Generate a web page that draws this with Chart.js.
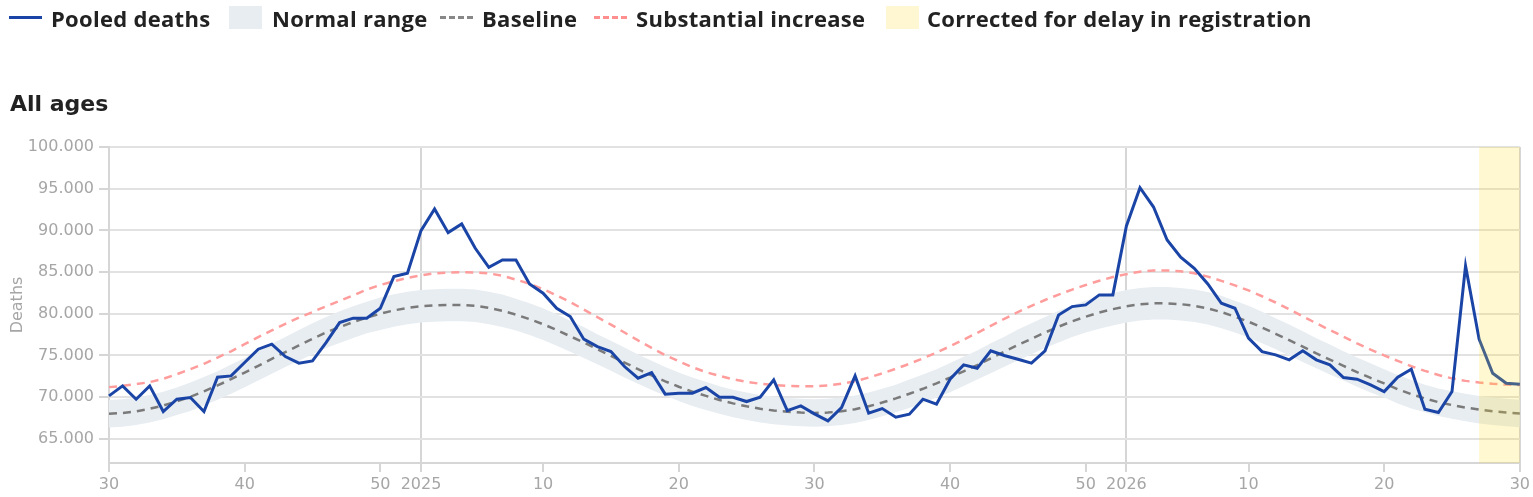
<!DOCTYPE html>
<html>
<head>
<meta charset="utf-8">
<script src="https://cdn.jsdelivr.net/npm/chart.js@4.4.1/dist/chart.umd.min.js"></script>
<style>
  body { margin: 0; width: 1533px; height: 497px; overflow: hidden; background: #fff; }
  #wrap { position: absolute; left: 0; top: 0; width: 1533px; height: 497px; }
  .legend { position: absolute; top: 5px; height: 26px; line-height: 26px; font-family: "Open Sans", sans-serif; font-weight: 700; font-size: 22px; letter-spacing: 0.3px; color: #222; white-space: nowrap; }
  .sw { position: absolute; }
  #title { position: absolute; left: 10px; top: 93px; font-family: "DejaVu Sans", sans-serif; font-weight: bold; font-size: 22px; line-height: 22px; color: #222; }
</style>
</head>
<body>
<div id="wrap"><canvas id="deathsChart"></canvas></div>

<div class="sw" style="left:9px;top:16px;width:33px;height:3px;background:#1a45a6"></div>
<div class="legend" style="left:51px">Pooled deaths</div>
<div class="sw" style="left:229px;top:6px;width:33px;height:23px;background:#e8edf2"></div>
<div class="legend" style="left:272px">Normal range</div>
<div class="sw" style="left:440px;top:16px;width:33px;height:3px;background:repeating-linear-gradient(to right,#888 0 6px,transparent 6px 9px)"></div>
<div class="legend" style="left:482px">Baseline</div>
<div class="sw" style="left:594px;top:16px;width:33px;height:3px;background:repeating-linear-gradient(to right,#ff8f8f 0 6px,transparent 6px 9px)"></div>
<div class="legend" style="left:636px">Substantial increase</div>
<div class="sw" style="left:886px;top:6px;width:33px;height:23px;background:#fff7d1"></div>
<div class="legend" style="left:927px">Corrected for delay in registration</div>

<div id="title">All ages</div>

<script>
// weeks from 2024 week 30 to 2026 week 30 (2024 and 2025 have 52 ISO weeks)
const weekLabels = [];
for (let y = 2024, w = 30; weekLabels.length < 105; w++) {
    if (w > 52) { y++; w = 1; }
    weekLabels.push(y + '-W' + w);
}

// first week that is still being corrected for registration delay
const correctedFrom = '2026-W27';

const yTicks = [65000, 70000, 75000, 80000, 85000, 90000, 95000, 100000];

const pooledDeaths = [
    70150, 71350, 69750, 71350, 68270, 69750, 69950, 68270, 72390, 72550,
    74150, 75750, 76350, 74860, 74070, 74350, 76550, 78940, 79470, 79470,
    80660, 84460, 84860, 89970, 92570, 89730, 90770, 87850, 85570, 86450,
    86450, 83580, 82460, 80660, 79660, 76950, 76060, 75460, 73670, 72270,
    72940, 70360, 70480, 70480, 71150, 69990, 69990, 69470, 69990, 72070,
    68390, 68950, 67990, 67150, 68750, 72550, 68070, 68630, 67600, 67960,
    69750, 69150, 72150, 73870, 73470, 75550, 74990, 74550, 74070, 75550,
    79860, 80860, 81060, 82260, 82260, 90530, 95120, 92800, 88850, 86780,
    85460, 83580, 81260, 80660, 77070, 75460, 75070, 74470, 75550, 74470,
    73870, 72350, 72150, 71470, 70670, 72390, 73350, 68550, 68150, 70670,
    85740, 76950, 72870, 71670, 71550
];

const baseline = [
    68000, 68100, 68300, 68600, 69000, 69500, 70050, 70700, 71400, 72150,
    72950, 73750, 74600, 75400, 76200, 77000, 77750, 78400, 79000, 79550,
    80000, 80400, 80700, 80900, 81000, 81050, 81050, 80950, 80700, 80350,
    79900, 79350, 78750, 78050, 77300, 76550, 75750, 74950, 74150, 73350,
    72600, 71900, 71250, 70650, 70150, 69650, 69250, 68900, 68600, 68400,
    68250, 68150, 68100, 68150, 68300, 68550, 68900, 69350, 69850, 70400,
    71000, 71650, 72350, 73100, 73850, 74650, 75450, 76250, 77000, 77750,
    78450, 79100, 79650, 80150, 80550, 80900, 81150, 81250, 81250, 81150,
    80950, 80650, 80200, 79650, 79050, 78350, 77600, 76850, 76050, 75250,
    74500, 73750, 73000, 72300, 71650, 70950, 70350, 69850, 69400, 69050,
    68750, 68500, 68300, 68150, 68050
];

const substantialIncrease = [
    71200, 71350, 71550, 71800, 72200, 72750, 73350, 74000, 74750, 75500,
    76350, 77200, 78000, 78800, 79550, 80200, 80900, 81550, 82200, 82900,
    83450, 83900, 84300, 84600, 84850, 84950, 85000, 84950, 84850, 84550,
    84100, 83600, 82950, 82200, 81400, 80500, 79600, 78700, 77750, 76800,
    75900, 75050, 74300, 73600, 73000, 72550, 72150, 71850, 71600, 71450,
    71350, 71300, 71300, 71400, 71600, 71900, 72350, 72850, 73400, 74000,
    74650, 75350, 76100, 76900, 77700, 78550, 79400, 80200, 80950, 81650,
    82300, 82900, 83450, 83950, 84400, 84750, 85050, 85200, 85200, 85100,
    84850, 84450, 83950, 83400, 82800, 82100, 81350, 80550, 79700, 78850,
    78050, 77250, 76450, 75700, 75000, 74350, 73700, 73150, 72650, 72250,
    71950, 71750, 71600, 71500, 71450
];

const normalUpper = [
    69650, 69750, 69950, 70250, 70650, 71150, 71750, 72400, 73100, 73900,
    74700, 75500, 76400, 77200, 78050, 78850, 79600, 80300, 80900, 81450,
    81950, 82350, 82650, 82850, 82950, 83000, 83000, 82900, 82650, 82300,
    81800, 81250, 80650, 79950, 79150, 78400, 77550, 76750, 75950, 75100,
    74350, 73600, 72950, 72350, 71850, 71300, 70900, 70550, 70250, 70050,
    69900, 69800, 69750, 69800, 69950, 70200, 70550, 71000, 71500, 72100,
    72700, 73350, 74100, 74850, 75600, 76450, 77250, 78100, 78850, 79600,
    80350, 81000, 81550, 82100, 82500, 82850, 83100, 83200, 83200, 83100,
    82900, 82600, 82150, 81550, 80950, 80250, 79450, 78700, 77900, 77050,
    76300, 75500, 74750, 74050, 73350, 72650, 72050, 71500, 71050, 70700,
    70400, 70150, 69950, 69800, 69700
];

const normalLower = [
    66350, 66450, 66650, 66950, 67350, 67850, 68350, 69000, 69700, 70400,
    71200, 72000, 72800, 73600, 74350, 75150, 75900, 76500, 77100, 77650,
    78050, 78450, 78750, 78950, 79050, 79100, 79100, 79000, 78750, 78400,
    78000, 77450, 76850, 76150, 75450, 74700, 73950, 73150, 72350, 71600,
    70850, 70200, 69550, 68950, 68450, 68000, 67600, 67250, 66950, 66750,
    66600, 66500, 66450, 66500, 66650, 66900, 67250, 67700, 68200, 68700,
    69300, 69950, 70600, 71350, 72100, 72850, 73650, 74400, 75150, 75900,
    76550, 77200, 77750, 78200, 78600, 78950, 79200, 79300, 79300, 79200,
    79000, 78700, 78250, 77750, 77150, 76450, 75750, 75000, 74200, 73450,
    72700, 72000, 71250, 70550, 69950, 69250, 68650, 68200, 67750, 67400,
    67100, 66850, 66650, 66500, 66400
];

const axisGray = '#d6d6d6';
const labelGray = '#a6a6a6';
const tickFont = { family: 'DejaVu Sans', size: 16 };

function weekOf(label) { return parseInt(label.split('-W')[1], 10); }
function yearOf(label) { return label.split('-W')[0]; }
function xTickText(label) {
    const w = weekOf(label);
    if (w === 1) return yearOf(label);
    return w % 10 === 0 ? String(w) : '';
}
function isYearLine(i) {
    return i === 0 || i === weekLabels.length - 1 || weekOf(weekLabels[i]) === 1;
}

// yellow box over the weeks still corrected for registration delay
const correctionBox = {
    id: 'correctionBox',
    afterDatasetsDraw(chart) {
        const { ctx, chartArea, scales } = chart;
        const x0 = scales.x.getPixelForValue(weekLabels.indexOf(correctedFrom));
        ctx.save();
        ctx.fillStyle = 'rgba(255, 218, 25, 0.2)';
        ctx.fillRect(x0, chartArea.top, chartArea.right - x0, chartArea.bottom - chartArea.top);
        ctx.restore();
    }
};

document.addEventListener('DOMContentLoaded', function () {
    const ctx = document.getElementById('deathsChart').getContext('2d');
    new Chart(ctx, {
        type: 'line',
        data: {
            labels: weekLabels,
            datasets: [
                {
                    label: 'Pooled deaths',
                    data: pooledDeaths,
                    borderColor: '#1a45a6',
                    borderWidth: 3,
                    pointRadius: 0,
                    order: 0
                },
                {
                    label: 'Substantial increase',
                    data: substantialIncrease,
                    borderColor: '#ff9c9c',
                    borderWidth: 2.5,
                    borderDash: [8, 6],
                    pointRadius: 0,
                    order: 1
                },
                {
                    label: 'Baseline',
                    data: baseline,
                    borderColor: '#7a7a7a',
                    borderWidth: 2.5,
                    borderDash: [8, 6],
                    pointRadius: 0,
                    order: 2
                },
                {
                    label: 'Normal range',
                    data: normalUpper,
                    borderWidth: 0,
                    pointRadius: 0,
                    backgroundColor: '#e8edf2',
                    fill: '+1',
                    order: 3
                },
                {
                    label: 'Normal range low',
                    data: normalLower,
                    borderWidth: 0,
                    pointRadius: 0,
                    fill: false,
                    order: 4
                }
            ]
        },
        options: {
            responsive: true,
            maintainAspectRatio: false,
            animation: false,
            layout: { padding: { top: 147, right: 13, left: 0, bottom: 0 } },
            plugins: {
                legend: { display: false },
                tooltip: { enabled: false }
            },
            scales: {
                x: {
                    afterFit: function (scale) { scale.height = 34; },
                    grid: {
                        color: c => isYearLine(c.index) ? axisGray : 'transparent',
                        tickColor: c => (isYearLine(c.index) || xTickText(weekLabels[c.index]) !== '') ? axisGray : 'transparent',
                        lineWidth: 2,
                        tickLength: 9
                    },
                    border: { color: axisGray, width: 2 },
                    ticks: {
                        autoSkip: false,
                        maxRotation: 0,
                        padding: 3,
                        color: labelGray,
                        font: tickFont,
                        callback: function (value, index) { return xTickText(weekLabels[index]); }
                    }
                },
                y: {
                    min: 62100,
                    max: 100000,
                    afterFit: function (scale) { scale.width = 109; },
                    afterBuildTicks: function (scale) { scale.ticks = yTicks.map(v => ({ value: v })); },
                    grid: { color: '#e2e2e2', lineWidth: 2, tickLength: 10, tickColor: axisGray },
                    border: { color: axisGray, width: 2 },
                    ticks: {
                        padding: 5,
                        color: labelGray,
                        font: tickFont,
                        callback: v => v.toLocaleString('de-DE')
                    },
                    title: {
                        display: true,
                        text: 'Deaths',
                        color: labelGray,
                        font: tickFont,
                        padding: { top: 8, bottom: 0 }
                    }
                }
            }
        },
        plugins: [correctionBox]
    });
});
</script>
</body>
</html>
